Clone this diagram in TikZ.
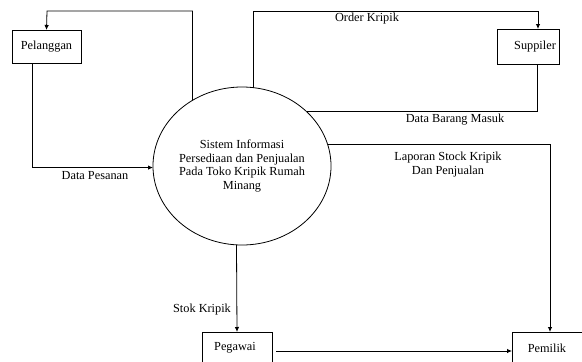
\documentclass[tikz,border=0pt]{standalone}
\usepackage{fontspec}
\setmainfont{Liberation Serif}
\usetikzlibrary{arrows.meta,shapes.geometric}
\tikzset{
  lbl/.style={font=\fontsize{12.3}{13.5}\selectfont, inner sep=0pt, align=center, text=black},
  boxn/.style={draw=black, line width=0.8pt, inner sep=0pt, outer sep=0pt, rectangle},
  proc/.style={draw=black, line width=0.8pt, ellipse, inner sep=0pt, outer sep=0pt,
    minimum width=170pt, minimum height=158pt, font=\fontsize{12.3}{13.5}\selectfont, align=center, text=black},
  flow/.style={draw=black, line width=0.8pt},
  arr/.style={flow, -{Latex[length=5pt,width=4.5pt]}}
}
\begin{document}
\begin{tikzpicture}[x=1pt,y=-1pt]
\clip (0,0) rectangle (582,362);
\fill[white] (0,0) rectangle (582,362);
% entities
\node[boxn, minimum width=69pt, minimum height=33pt] (pel) at (46.5,46.5) {};
\node[lbl] (peltxt) at (46.5,47) {Pelanggan};
\node[boxn, minimum width=62pt, minimum height=35pt] (sup) at (528,46.5) {};
\node[lbl] (suptxt) at (535,47) {Suppiler};
\node[boxn, minimum width=70pt, minimum height=38pt] (peg) at (237,351) {};
\node[lbl] (pegtxt) at (235,348) {Pegawai};
\node[boxn, minimum width=76pt, minimum height=38pt] (pem) at (550,351) {};
\node[lbl] (pemtxt) at (547,348) {Pemilik};
% process
\node[proc] (sys) at (242,166) {Sistem Informasi\\Persediaan dan Penjualan\\Pada Toko Kripik Rumah\\Minang};
% helper coordinates
\coordinate (toplt) at (47,11);
\coordinate (toprt) at (538,11);
% flows
\draw[arr] (sys.127.4) |- (toplt) -- (pel.north);
\draw[arr] (sys.82.8) |- (toprt) -- ([xshift=10pt]sup.north);
\draw[flow] ([xshift=9pt]sup.south) |- (sys.40.07);
\draw[arr] (sys.14.2) -| (pem.north);
\draw[arr] (sys.266.4) -- (peg.north);
\draw[arr] ([xshift=-14.5pt]pel.south) |- (sys.181.35);
\draw[arr] ([xshift=4pt]peg.east) -- (pem.west);
% labels
\node[lbl] (l1) at (367,19) {Order Kripik};
\node[lbl] (l2) at (455,120) {Data Barang Masuk};
\node[lbl] (l3) at (448,164.5) {Laporan Stock Kripik\\Dan Penjualan};
\node[lbl] (l4) at (95,176) {Data Pesanan};
\node[lbl] (l5) at (202,310) {Stok Kripik};
\end{tikzpicture}
\end{document}
